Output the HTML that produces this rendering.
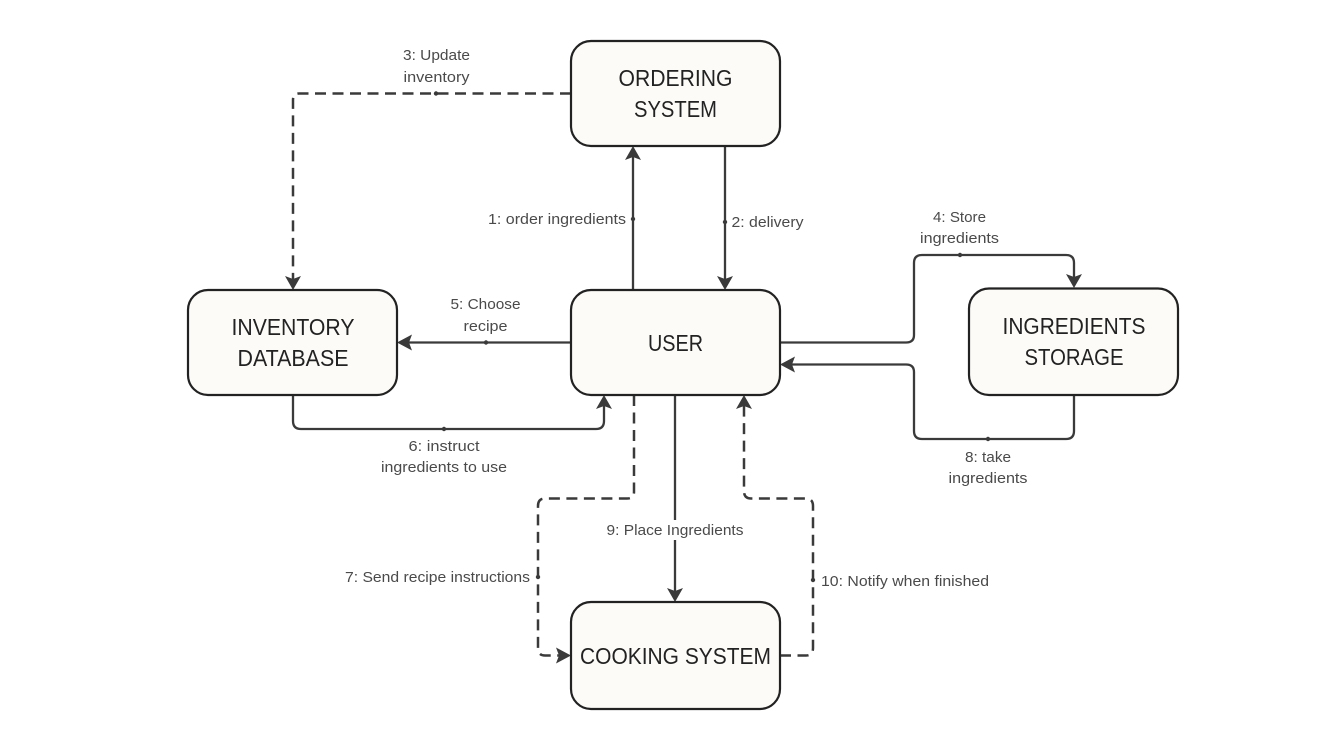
<!DOCTYPE html>
<html>
<head>
<meta charset="utf-8">
<style>
html,body{margin:0;padding:0;background:#fff;width:1333px;height:750px;overflow:hidden}
svg{display:block}
text{font-family:"Liberation Sans",sans-serif}
.n{font-size:23.500px;fill:#222;text-anchor:middle}
.l{font-size:15px;fill:#4a4a4a;text-anchor:middle}
.b{fill:#fdfbf7;stroke:#222;stroke-width:2.200}
.c{fill:none;stroke:#3a3a3a;stroke-width:2.300}
.d{stroke-dasharray:11 6.500;stroke-width:2.500}
.a{fill:#3a3a3a}
.p{fill:#3a3a3a}
</style>
</head>
<body>
<svg width="1333" height="750" viewBox="0 0 1333 750" xmlns="http://www.w3.org/2000/svg">
<rect width="1333" height="750" fill="#fff"/>

<!-- connectors -->
<path class="c" d="M633 290V152"/>
<path class="c" d="M725 146V284"/>
<path class="c d" d="M571 93.500H299Q293 93.500 293 100V282"/>
<path class="c" d="M780 342.500H906Q914 342.500 914 335V263Q914 255 922 255H1066Q1074 255 1074 263V282"/>
<path class="c" d="M571 342.500H403"/>
<path class="c" d="M293 395V421Q293 429 301 429H596Q604 429 604 421V401"/>
<path class="c d" d="M634 395V492Q634 498.500 627 498.500H545Q538 498.500 538 506V648Q538 655.500 545 655.500H564"/>
<path class="c" d="M1074 395V431Q1074 439 1066 439H922Q914 439 914 431V372Q914 364.500 906 364.500H786"/>
<path class="c" d="M675 395V596"/>
<path class="c d" d="M780 655.500H806Q813 655.500 813 648V506Q813 498.500 806 498.500H751Q744 498.500 744 491V401"/>

<!-- arrowheads -->
<path class="a" d="M633 146L641 160L633 157L625 160Z"/>
<path class="a" d="M725 290L717 276L725 279L733 276Z"/>
<path class="a" d="M293 290L285 276L293 279L301 276Z"/>
<path class="a" d="M1074 288L1066 274L1074 277L1082 274Z"/>
<path class="a" d="M397 342.500L412 334.500L409 342.500L412 350.500Z"/>
<path class="a" d="M604 395L596 409L604 406L612 409Z"/>
<path class="a" d="M571 655.500L556 647.500L559 655.500L556 663.500Z"/>
<path class="a" d="M780 364.500L795 356.500L792 364.500L795 372.500Z"/>
<path class="a" d="M675 602L667 588L675 591L683 588Z"/>
<path class="a" d="M744 395L736 409L744 406L752 409Z"/>

<!-- label midpoints -->
<circle class="p" cx="633" cy="219" r="2.200"/>
<circle class="p" cx="725" cy="222" r="2.200"/>
<circle class="p" cx="436" cy="93.500" r="2.200"/>
<circle class="p" cx="960" cy="255" r="2.200"/>
<circle class="p" cx="486" cy="342.500" r="2.200"/>
<circle class="p" cx="444" cy="429" r="2.200"/>
<circle class="p" cx="538" cy="577" r="2.200"/>
<circle class="p" cx="988" cy="439" r="2.200"/>
<circle class="p" cx="813" cy="580" r="2.200"/>

<!-- boxes -->
<rect class="b" x="571" y="41" width="209" height="105" rx="20"/>
<rect class="b" x="571" y="290" width="209" height="105" rx="20"/>
<rect class="b" x="188" y="290" width="209" height="105" rx="20"/>
<rect class="b" x="969" y="288.500" width="209" height="106.500" rx="20"/>
<rect class="b" x="571" y="602" width="209" height="107" rx="20"/>

<!-- box text -->
<text class="n" x="675.500" y="86" textLength="114" lengthAdjust="spacingAndGlyphs">ORDERING</text>
<text class="n" x="675.500" y="117" textLength="83" lengthAdjust="spacingAndGlyphs">SYSTEM</text>
<text class="n" x="675.500" y="351" textLength="55" lengthAdjust="spacingAndGlyphs">USER</text>
<text class="n" x="293" y="335" textLength="123" lengthAdjust="spacingAndGlyphs">INVENTORY</text>
<text class="n" x="293" y="366" textLength="111" lengthAdjust="spacingAndGlyphs">DATABASE</text>
<text class="n" x="1074" y="334" textLength="143" lengthAdjust="spacingAndGlyphs">INGREDIENTS</text>
<text class="n" x="1074" y="365" textLength="99" lengthAdjust="spacingAndGlyphs">STORAGE</text>
<text class="n" x="675.500" y="664" textLength="191" lengthAdjust="spacingAndGlyphs">COOKING SYSTEM</text>

<!-- 9 label background -->
<rect x="606" y="520" width="138" height="20" fill="#fff"/>

<!-- connector labels -->
<text class="l" x="436.500" y="60" textLength="67" lengthAdjust="spacingAndGlyphs">3: Update</text>
<text class="l" x="436.500" y="82" textLength="66" lengthAdjust="spacingAndGlyphs">inventory</text>
<text class="l" x="557" y="224" textLength="138" lengthAdjust="spacingAndGlyphs">1: order ingredients</text>
<text class="l" x="767.500" y="227" textLength="72" lengthAdjust="spacingAndGlyphs">2: delivery</text>
<text class="l" x="959.500" y="222" textLength="53" lengthAdjust="spacingAndGlyphs">4: Store</text>
<text class="l" x="959.500" y="243" textLength="79" lengthAdjust="spacingAndGlyphs">ingredients</text>
<text class="l" x="485.500" y="309" textLength="70" lengthAdjust="spacingAndGlyphs">5: Choose</text>
<text class="l" x="485.500" y="331" textLength="44" lengthAdjust="spacingAndGlyphs">recipe</text>
<text class="l" x="444" y="451" textLength="71" lengthAdjust="spacingAndGlyphs">6: instruct</text>
<text class="l" x="444" y="472" textLength="126" lengthAdjust="spacingAndGlyphs">ingredients to use</text>
<text class="l" x="988" y="462" textLength="46" lengthAdjust="spacingAndGlyphs">8: take</text>
<text class="l" x="988" y="483" textLength="79" lengthAdjust="spacingAndGlyphs">ingredients</text>
<text class="l" x="675" y="535" textLength="137" lengthAdjust="spacingAndGlyphs">9: Place Ingredients</text>
<text class="l" x="437.500" y="582" textLength="185" lengthAdjust="spacingAndGlyphs">7: Send recipe instructions</text>
<text class="l" x="905" y="586" textLength="168" lengthAdjust="spacingAndGlyphs">10: Notify when finished</text>
</svg>
</body>
</html>
